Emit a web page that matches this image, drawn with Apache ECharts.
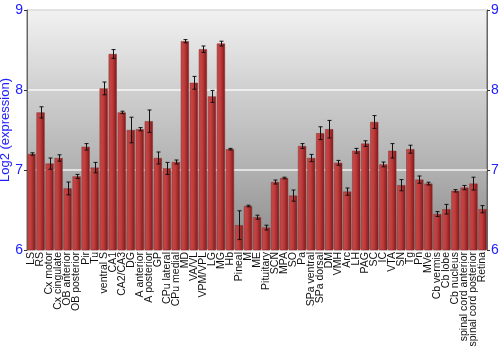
<!DOCTYPE html>
<html>
<head>
<meta charset="utf-8">
<script src="https://cdn.jsdelivr.net/npm/echarts@6/dist/echarts.min.js"></script>
<style>html,body{margin:0;padding:0;background:#fff}#c{width:500px;height:350px}</style>
</head>
<body>
<div id="c"></div>
<script>
const categories = ["LS","RS","Cx motor","Cx cingulate","OB anterior","OB posterior","Pir","Tu","ventral S","CA1","CA2/CA3","DG","A anterior","A posterior","GP","CPu lateral","CPu medial","MD","VA/VL","VPM/VPL","LG","MG","Hb","Pineal","M","ME","Pituitary","SCN","MPA","SO","Pa","SPa ventral","SPa dorsal","DM","VMH","Arc","LH","PAG","SC","IC","VTA","SN","Tg","Pn","MVe","Cb vermis","Cb lobe","Cb nucleus","spinal cord anterior","spinal cord posterior","Retina"];
const values = [7.20,7.72,7.08,7.15,6.77,6.92,7.29,7.03,8.02,8.45,7.72,7.50,7.51,7.61,7.15,7.02,7.10,8.61,8.09,8.51,7.92,8.58,7.26,6.31,6.55,6.41,6.28,6.85,6.90,6.68,7.30,7.15,7.46,7.51,7.09,6.73,7.24,7.33,7.60,7.07,7.24,6.81,7.26,6.88,6.83,6.45,6.51,6.74,6.78,6.83,6.51];
const errors = [0.015,0.07,0.07,0.04,0.08,0.025,0.04,0.065,0.08,0.055,0.015,0.16,0.02,0.14,0.075,0.075,0.025,0.02,0.08,0.04,0.075,0.03,0.01,0.18,0.01,0.025,0.03,0.025,0.01,0.07,0.03,0.045,0.08,0.11,0.03,0.045,0.03,0.035,0.08,0.03,0.09,0.07,0.05,0.045,0.017,0.03,0.06,0.015,0.027,0.08,0.045];
const yTicks = [6,7,8,9];

const chart = echarts.init(document.getElementById('c'), null, {renderer:'canvas'});
const blue = '#2020ff';
const errData = values.map((v,i)=>[i, v-errors[i], v+errors[i]]);
chart.setOption({
  animation:false,
  backgroundColor:'#fff',
  grid:{left:27,right:13,top:10,bottom:100,show:true,borderColor:'#666',borderWidth:1,
    outerBoundsMode:'none',containLabel:false,
    backgroundColor:new echarts.graphic.LinearGradient(0,0,0,1,[{offset:0,color:'#f2f2f2'},{offset:0.33,color:'#d0d0d0'},{offset:0.67,color:'#b0b0b0'},{offset:1,color:'#8a8a8a'}])},
  xAxis:{type:'category',data:categories,boundaryGap:true,
    axisLine:{show:false},axisTick:{show:false},
    axisLabel:{rotate:90,interval:0,fontSize:10.5,color:'#111',margin:2,fontFamily:'Liberation Sans'}},
  yAxis:[
    {type:'value',min:yTicks[0],max:yTicks[yTicks.length-1],interval:1,position:'left',
     axisLine:{show:true,lineStyle:{color:'#666'}},axisTick:{show:true,length:3,lineStyle:{color:'#333'}},
     axisLabel:{color:blue,fontSize:14,margin:4,fontFamily:'Liberation Sans'},
     splitLine:{show:true,lineStyle:{color:'rgba(255,255,255,0.85)',width:1.5}},
     name:'Log2 (expression)',nameLocation:'middle',nameGap:15,nameMoveOverlap:false,
     nameTextStyle:{color:blue,fontSize:13,fontFamily:'Liberation Sans'}},
    {type:'value',min:yTicks[0],max:yTicks[yTicks.length-1],interval:1,position:'right',
     axisLine:{show:true,lineStyle:{color:'#666'}},axisTick:{show:true,length:3,lineStyle:{color:'#333'}},
     axisLabel:{color:blue,fontSize:14,margin:4,fontFamily:'Liberation Sans'},
     splitLine:{show:false}}
  ],
  series:[
    {type:'bar',data:values,barCategoryGap:'10%',
     itemStyle:{color:new echarts.graphic.LinearGradient(0,0,1,0,[{offset:0,color:'#c44a4a'},{offset:0.45,color:'#c03c3c'},{offset:1,color:'#7e1818'}]),
       borderColor:'#8a2a2a',borderWidth:0.5}},
    {type:'custom',data:errData,z:5,
     renderItem:function(params,api){
       const x=api.value(0);
       const lo=api.coord([x,api.value(1)]);
       const hi=api.coord([x,api.value(2)]);
       const cx=Math.round(lo[0])+0.5;
       const s={stroke:'#111',lineWidth:1};
       return {type:'group',children:[
         {type:'line',shape:{x1:cx,y1:lo[1],x2:cx,y2:hi[1]},style:s},
         {type:'line',shape:{x1:cx-2,y1:lo[1],x2:cx+2,y2:lo[1]},style:s},
         {type:'line',shape:{x1:cx-2,y1:hi[1],x2:cx+2,y2:hi[1]},style:s}
       ]};
     }}
  ]
});
</script>
</body>
</html>
